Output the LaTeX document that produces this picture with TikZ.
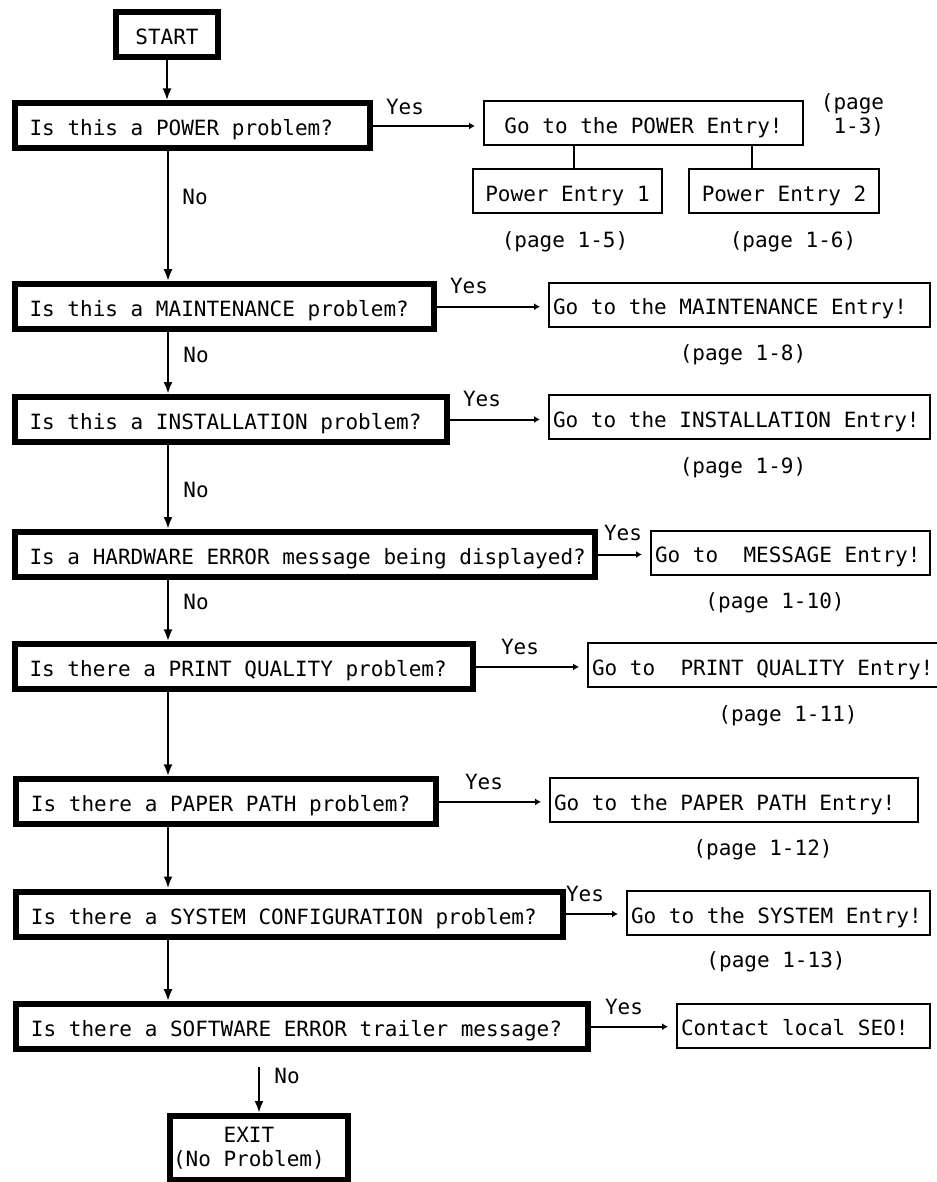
\documentclass[tikz,border=0pt]{standalone}
\usepackage{fontspec}
\setmonofont{DejaVu Sans Mono}
\usetikzlibrary{arrows.meta}
\tikzset{
	qbox/.style={draw,line width=3pt,inner xsep=7.5pt,minimum height=22.5pt,text height=10pt,text depth=0pt},
	gobox/.style={draw,line width=1pt,minimum height=22pt,text height=10pt,text depth=0pt},
	golbox/.style={gobox,inner xsep=2pt},
	lbl/.style={inner sep=0pt,text height=7.6pt,text depth=0pt},
	down/.style={line width=1.3pt,-{Latex[length=6pt,width=4.5pt]}},
	yes/.style={line width=1pt,-{Latex[length=3pt,width=3.5pt]},shorten >=4pt}
}
\begin{document}
\begin{tikzpicture}[x=.5pt,y=-.5pt,font=\ttfamily\fontsize{10.5}{12}\selectfont]
\def\ltext#1#2{\makebox[#1][l]{#2}}
\useasboundingbox (0,0) rectangle (936,1182);
\coordinate (spine) at (168,0);
% questions
\node[qbox,minimum width=51pt] (start) at (167,34.5) {START};
\node[qbox] (power) at (192.3,126) {\ltext{162.7pt}{Is this a POWER problem?}};
\node[qbox] (maint) at (224.3,306.7) {\ltext{194.75pt}{Is this a MAINTENANCE problem?}};
\node[qbox] (inst) at (230.8,419.5) {\ltext{201.25pt}{Is this a INSTALLATION problem?}};
\node[qbox] (hard) at (304.8,554.5) {\ltext{275.25pt}{Is a HARDWARE ERROR message being displayed?}};
\node[qbox] (print) at (243.8,666.9) {\ltext{214.25pt}{Is there a PRINT QUALITY problem?}};
\node[qbox] (paper) at (226,801.9) {\ltext{195pt}{Is there a PAPER PATH problem?}};
\node[qbox] (sys) at (289.5,914) {\ltext{258.5pt}{Is there a SYSTEM CONFIGURATION problem?}};
\node[qbox] (soft) at (302,1026.7) {\ltext{271pt}{Is there a SOFTWARE ERROR trailer message?}};
\node[draw,line width=3pt,inner xsep=1.5pt,minimum height=32pt] (exit) at (259,1148) {\parbox{86pt}{\hspace*{2.41em}EXIT\\(No Problem)}};
% entries
\node[gobox,minimum width=159.5pt] (powergo) at (643.5,123.5) {Go to the POWER Entry!};
\node[gobox,minimum width=94.5pt] (pe1) at (567.5,191.5) {Power Entry 1};
\node[gobox,minimum width=95pt] (pe2) at (784,191.5) {Power Entry 2};
\node[golbox] (maintgo) at (739.5,304.7) {\ltext{186.5pt}{Go to the MAINTENANCE Entry!}};
\node[golbox] (instgo) at (739.5,417.3) {\ltext{186.5pt}{Go to the INSTALLATION Entry!}};
\node[golbox] (hardgo) at (790.5,552.5) {\ltext{135.5pt}{Go to\ \ MESSAGE Entry!}};
\node[golbox] (printgo) at (766.5,665.3) {\ltext{174.5pt}{Go to\ \ PRINT QUALITY Entry!}};
\node[golbox] (papergo) at (734,800.2) {\ltext{180pt}{Go to the PAPER PATH Entry!}};
\node[golbox] (sysgo) at (778.5,913) {\ltext{147.5pt}{Go to the SYSTEM Entry!}};
\node[golbox] (softgo) at (803.5,1025.8) {\ltext{122.5pt}{Contact local SEO!}};
% no
\draw[down] (start.south) -- (start.south |- power.north);
\draw[down] (spine |- power.south) -- (spine |- maint.north);
\draw[down] (spine |- maint.south) -- (spine |- inst.north);
\draw[down] (spine |- inst.south) -- (spine |- hard.north);
\draw[down] (spine |- hard.south) -- (spine |- print.north);
\draw[down] (spine |- print.south) -- (spine |- paper.north);
\draw[down] (spine |- paper.south) -- (spine |- sys.north);
\draw[down] (spine |- sys.south) -- (spine |- soft.north);
\draw[down,shorten <=7.5pt] (exit.north |- soft.south) -- (exit.north);
\node[lbl] (no1) at (195,197) {No};
\node[lbl] (no2) at (196,355) {No};
\node[lbl] (no3) at (196,490) {No};
\node[lbl] (no4) at (196,602) {No};
\node[lbl] (no5) at (287,1076) {No};
% yes
\draw[yes] (power.east) -- (power.east -| powergo.west);
\draw[yes] (maint.east) -- (maint.east -| maintgo.west);
\draw[yes] (inst.east) -- (inst.east -| instgo.west);
\draw[yes] (hard.east) -- (hard.east -| hardgo.west);
\draw[yes] (print.east) -- (print.east -| printgo.west);
\draw[yes] (paper.east) -- (paper.east -| papergo.west);
\draw[yes] (sys.east) -- (sys.east -| sysgo.west);
\draw[yes] (soft.east) -- (soft.east -| softgo.west);
\node[lbl] (yes1) at (405,107) {Yes};
\node[lbl] (yes2) at (469,286) {Yes};
\node[lbl] (yes3) at (482,399) {Yes};
\node[lbl] (yes4) at (623,533) {Yes};
\node[lbl] (yes5) at (520,647) {Yes};
\node[lbl] (yes6) at (484,781.7) {Yes};
\node[lbl] (yes7) at (585,894) {Yes};
\node[lbl] (yes8) at (624,1006.7) {Yes};
\draw[line width=1.2pt] ([xshift=3.25pt]pe1.north) -- ([xshift=3.25pt]pe1.north |- powergo.south);
\draw[line width=1.2pt] ([xshift=-16pt]pe2.north) -- ([xshift=-16pt]pe2.north |- powergo.south);
% pages
\node[align=right,inner sep=0pt] (pg3) at (852.5,115) {(page\\1-3)};
\node[lbl] (pg5) at (565,240) {(page 1-5)};
\node[lbl] (pg6) at (793,240) {(page 1-6)};
\node[lbl] (pg8) at (743,353) {(page 1-8)};
\node[lbl] (pg9) at (743,466) {(page 1-9)};
\node[lbl] (pg10) at (775,600.7) {(page 1-10)};
\node[lbl] (pg11) at (788,714) {(page 1-11)};
\node[lbl] (pg12) at (763,848) {(page 1-12)};
\node[lbl] (pg13) at (776,960) {(page 1-13)};
\end{tikzpicture}
\end{document}
